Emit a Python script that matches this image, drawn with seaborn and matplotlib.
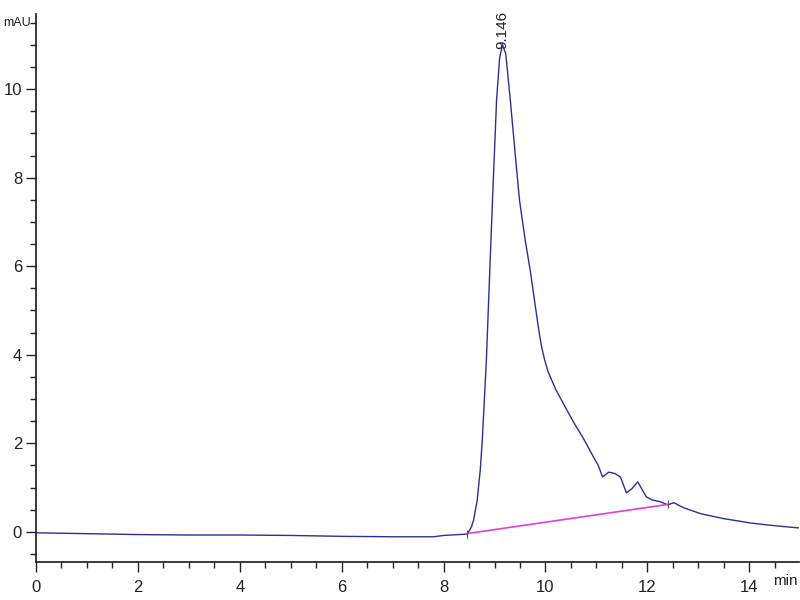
"""Chromatogram (UV trace) with integration baseline and peak label."""
import matplotlib
matplotlib.use("Agg")
import matplotlib.pyplot as plt
import pandas as pd
import seaborn as sns
from matplotlib.ticker import MultipleLocator

# ----- data ----------------------------------------------------------------
time_min = [0.0, 1.0, 2.0, 3.0, 4.0, 5.0, 6.0, 7.0, 7.8, 8.0, 8.3, 8.45,
            8.49, 8.55, 8.59, 8.66, 8.72, 8.76, 8.84, 8.90, 8.96, 9.04, 9.10,
            9.155, 9.22, 9.31, 9.40, 9.49, 9.60, 9.70, 9.86, 9.92, 9.98,
            10.05, 10.20, 10.35, 10.55, 10.75, 10.90, 11.04, 11.12, 11.24,
            11.36, 11.47, 11.59, 11.70, 11.81, 11.98, 12.10, 12.26, 12.40,
            12.52, 12.70, 13.05, 13.50, 14.03, 14.50, 14.97]
signal_mau = [-0.02, -0.04, -0.06, -0.07, -0.07, -0.08, -0.10, -0.11, -0.11,
              -0.08, -0.06, -0.05, 0.0, 0.12, 0.27, 0.72, 1.40, 2.08, 3.88,
              5.70, 7.49, 9.75, 10.70, 11.0, 10.80, 9.75, 8.60, 7.49, 6.60,
              5.91, 4.62, 4.20, 3.90, 3.62, 3.22, 2.90, 2.48, 2.10, 1.78,
              1.49, 1.24, 1.35, 1.32, 1.24, 0.88, 0.98, 1.13, 0.79, 0.72,
              0.68, 0.61, 0.66, 0.55, 0.41, 0.30, 0.20, 0.14, 0.09]

baseline_t = [8.45, 12.40]
baseline_y = [-0.04, 0.62]

peak_rt = 9.146
peak_h = 11.0

LINE_COLOR = "#2e2e96"
BASE_COLOR = "#e040d8"
INK = "#222222"

sns.set_theme(style="ticks")
plt.rcParams["font.family"] = ["Liberation Sans", "DejaVu Sans"]

fig = plt.figure(figsize=(8, 6), dpi=100)
ax = fig.add_axes([0.045, 0.0633, 0.954, 0.9137])

df = pd.DataFrame({"t": time_min, "mAU": signal_mau})
sns.lineplot(data=df, x="t", y="mAU", color=LINE_COLOR, lw=1.0, ax=ax)

base = pd.DataFrame({"t": baseline_t, "mAU": baseline_y})
sns.lineplot(data=base, x="t", y="mAU", color=BASE_COLOR, lw=1.2, ax=ax)
ax.plot(baseline_t, baseline_y, ls="none", marker="|", ms=6,
        color="#555555", mew=0.8)

ax.text(peak_rt, peak_h - 0.1, f"{peak_rt:.3f}", rotation=90, ha="center",
        va="bottom", fontsize=11, color=INK, clip_on=False)

ax.set_xlim(0, 14.98)
ax.set_ylim(-0.68, 11.7)
ax.xaxis.set_major_locator(MultipleLocator(2))
ax.xaxis.set_minor_locator(MultipleLocator(0.5))
ax.yaxis.set_major_locator(MultipleLocator(2))
ax.yaxis.set_minor_locator(MultipleLocator(0.5))
ax.tick_params(which="major", length=7, width=1, labelsize=12,
               color=INK, labelcolor=INK)
ax.tick_params(which="minor", length=4, width=1, color=INK)
ax.tick_params(axis="x", pad=6)
ax.tick_params(axis="y", pad=3)
for side in ("top", "right"):
    ax.spines[side].set_visible(False)
for side in ("left", "bottom"):
    ax.spines[side].set_color(INK)
ax.set_xlabel("")
ax.set_ylabel("")

# unit labels placed like the instrument software does
fig.text(3 / 800, 1 - 23 / 600, "mAU", ha="left", va="center",
         fontsize=9, color=INK)
fig.text(0.997, 1 - 581 / 600, "min", ha="right", va="center",
         fontsize=11, color=INK)

fig.savefig("out.png", dpi=100)
